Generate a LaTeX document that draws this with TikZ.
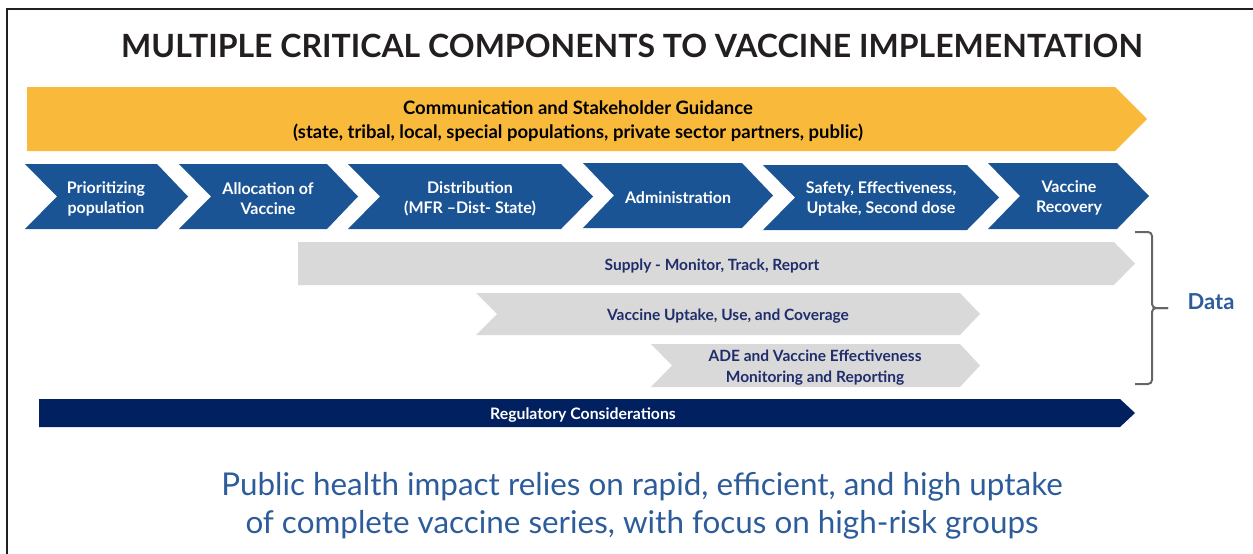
\documentclass[tikz,border=0pt]{standalone}
\usepackage{fontspec}
\setmainfont{Lato}
\usetikzlibrary{positioning}
\definecolor{commyellow}{HTML}{F9BA3C}
\definecolor{stepblue}{HTML}{1B5494}
\definecolor{datagray}{HTML}{D9D9D9}
\definecolor{regnavy}{HTML}{002060}
\definecolor{datanavy}{HTML}{1F2D6B}
\definecolor{impactblue}{HTML}{2D5C9A}
\definecolor{titlegray}{HTML}{231F20}

\begin{document}
\begin{tikzpicture}[x=1pt,y=-1pt]
            \tikzset{
                steptext/.style={text=white,align=center,font=\fontsize{16}{20}\selectfont\bfseries},
                datatext/.style={text=datanavy,align=center,font=\fontsize{15.5}{21}\selectfont\bfseries},}
            % colour, left, corner, top, bottom, notch, tip
            \def\chev#1#2#3#4#5#6#7{\fill[#1] (#2,#4) -- (#3,#4) -- ({#3+#7},{(#4+#5)/2}) -- (#3,#5) -- (#2,#5) -- ({#2+#6},{(#4+#5)/2}) -- cycle;}
            \useasboundingbox (0,0) rectangle (1253,554);
            \draw [titlegray,line width=1.2pt](7,554) -- (7,9) -- (1253,9);
            \node (title) at (632,46) {\fontsize{32}{36}\selectfont\bfseries\color{titlegray}MULTIPLE CRITICAL COMPONENTS TO VACCINE IMPLEMENTATION};
            % communication
            \chev{commyellow}{27}{1115}{87}{151}{0}{32}
            \node [align=center,font=\fontsize{18.5}{24}\selectfont\bfseries] (comm) at (578,121) {Communication and Stakeholder Guidance\\(state, tribal, local, special populations, private sector partners, public)};
            % steps
            \chev{stepblue}{25}{157}{164}{229}{32}{31}
            \chev{stepblue}{179}{327}{164}{229}{32}{31}
            \chev{stepblue}{348}{561}{164}{229}{32}{32}
            \chev{stepblue}{583}{742}{163}{228}{31}{31}
            \chev{stepblue}{763}{967}{165}{230}{32}{32}
            \chev{stepblue}{988}{1117}{163}{229}{32}{32}
            \node [steptext] (prio) at (106,199) {Prioritizing\\population};
            \node [steptext] (alloc) at (268,199) {Allocation of\\Vaccine};
            \node [steptext] (distr) at (470,199) {Distribution\\(MFR –Dist- State)};
            \node [steptext] (admin) at (678,198) {Administration};
            \node [steptext] (safety) at (881,199) {Safety, Effectiveness,\\Uptake, Second dose};
            \node [steptext] (recov) at (1069,198) {Vaccine\\Recovery};
            % data
            \chev{datagray}{298}{1114}{242}{285}{0}{21}
            \chev{datagray}{476}{960}{293}{335}{21}{20}
            \chev{datagray}{651}{960}{344}{387}{21}{20}
            \node [datatext] (supply) at (712,266) {Supply - Monitor, Track, Report};
            \node [datatext] (uptake) at (728,316) {Vaccine Uptake, Use, and Coverage};
            \node [datatext] (ade) at (815,368) {ADE and Vaccine Effectiveness\\Monitoring and Reporting};
            \draw [black!60,line width=2pt,rounded corners=4pt] (1135,232) -- (1152,232) -- (1152,308) -- (1168,308);
            \draw [black!60,line width=2pt,rounded corners=4pt] (1168,308) -- (1152,308) -- (1152,384) -- (1135,384);
            \node [text=impactblue,font=\fontsize{22}{24}\selectfont\bfseries] (data) at (1211,302) {Data};
            % regulatory
            \chev{regnavy}{39}{1120}{399}{427}{0}{15}
            \node [steptext,font=\fontsize{15.8}{18}\selectfont\bfseries] (reg) at (583,415) {Regulatory Considerations};
            \node [text=impactblue,align=center,font=\fontsize{31.4}{38}\selectfont] (impact) at (642,506) {Public health impact relies on rapid, efficient, and high uptake\\of complete vaccine series, with focus on high-risk groups};
        \end{tikzpicture}
\end{document}
